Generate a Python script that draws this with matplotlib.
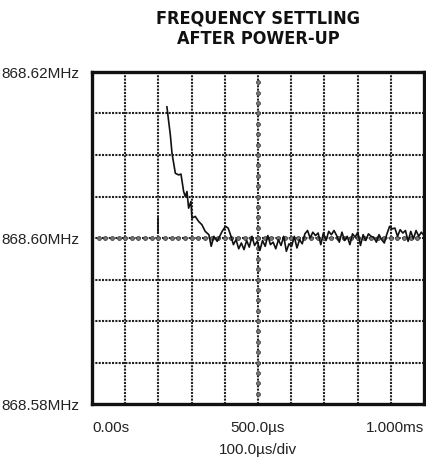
import numpy as np
import matplotlib.pyplot as plt

# frequency offset from 868.60MHz, in kHz; time in ms
settle_t = [0.2256, 0.236, 0.241, 0.251, 0.261, 0.268, 0.276, 0.281, 0.286, 0.291,
            0.298, 0.301, 0.311, 0.321, 0.331, 0.341, 0.352, 0.359, 0.367, 0.377,
            0.392, 0.402]
settle_f = [15.8, 12.4, 10.2, 7.8, 7.6, 7.7, 5.6, 5.0, 5.6, 3.6,
            4.4, 2.4, 2.6, 2.0, 1.6, 0.8, 0.4, -1.0, 0.2, -0.4,
            0.8, 1.4]

noise_f = [1.2, 0.3, -0.8, -0.2, -1.3, -0.6, -1.4, -0.3, -1.1, 0.2,
           -0.9, -0.4, -1.5, -0.3, -1.0, 0.3, -0.8, -0.5, -1.3, -0.2,
           -0.9, 0.2, -1.6, -0.7, -1.0, 0.2, -1.2, -0.2, -0.7, 0.5,
           0.9, 0.0, 0.7, 0.3, 0.6, -0.8, 0.6, -0.3, 0.8, 0.4,
           0.9, 0.3, -0.5, 0.7, -0.3, 0.2, -0.8, 0.5, 0.1, 0.7,
           -0.9, 0.4, -0.3, 0.5, 0.2, 0.1, -0.5, 0.4, -0.2, -0.6,
           0.5, 1.4, 1.1, 1.2, 0.2, 1.0, 0.6, 0.9, -0.4, 0.8,
           -0.1, 0.9, 0.2, 0.7, 0.3]
noise_t = np.linspace(0.41, 1.0, len(noise_f))

jump_t = [0.2, 0.2]
jump_f = [0.7, 2.4]

xticks = [0.0, 0.5, 1.0]
xlabels = ['0.00s', '500.0\u00b5s', '1.000ms']
yticks = [-20, 0, 20]
ylabels = ['868.58MHz', '868.60MHz', '868.62MHz']

fig = plt.figure(figsize=(4.27, 4.66), dpi=100)
ax = fig.add_axes([92/427, 62/466, 332/427, 332/466])

ax.set_xlim(0, 1.0)
ax.set_ylim(-20, 20)

# grid: 10 x 8 divisions
for gx in np.arange(0.1, 1.0, 0.1):
    ax.axvline(gx, color='#222222', lw=1.5, ls=(0, (1.0, 0.6)), zorder=1)
for gy in np.arange(-15, 20, 5):
    ax.axhline(gy, color='#222222', lw=1.5, ls=(0, (1.0, 0.6)), zorder=1)

# centre axes with small ticks
hx = np.arange(0.02, 1.0, 0.02)
ax.plot(hx, np.zeros_like(hx), ls='none', marker='o', ms=2.8,
        mfc='#777777', mec='#444444', mew=0.6, zorder=2)
vy = np.arange(-18.75, 20, 1.25)
ax.plot(np.full_like(vy, 0.5), vy, ls='none', marker='o', ms=2.8,
        mfc='#777777', mec='#444444', mew=0.6, zorder=2)

# trace
ax.plot(jump_t, jump_f, color='#111111', lw=1.2, zorder=3)
ax.plot(settle_t + list(noise_t), settle_f + noise_f, color='#111111', lw=1.2, zorder=3)

for s in ax.spines.values():
    s.set_linewidth(2.4)
    s.set_color('#111111')

ax.set_xticks(xticks)
ax.set_xticklabels(xlabels)
ax.set_yticks(yticks)
ax.set_yticklabels(ylabels)
ax.tick_params(length=0, labelsize=11, labelcolor='#222222')
ax.tick_params(axis='x', pad=12)
ax.tick_params(axis='y', pad=9)
labs = ax.get_xticklabels()
labs[0].set_ha('left')
labs[2].set_ha('right')
for l in ax.get_xticklabels() + ax.get_yticklabels():
    l.set_family('Liberation Sans')

fig.text(258/427, 1 - 29/466, 'FREQUENCY SETTLING\nAFTER POWER-UP', ha='center', va='center',
         fontsize=13, fontweight='bold', fontstretch='condensed',
         family=['DejaVu Sans'], linespacing=1.2, color='#111111')
fig.text(258/427, 1 - 450/466, '100.0\u00b5s/div', ha='center', va='center',
         fontsize=11, family='Liberation Sans', color='#222222')

fig.savefig('out.png', dpi=100)
